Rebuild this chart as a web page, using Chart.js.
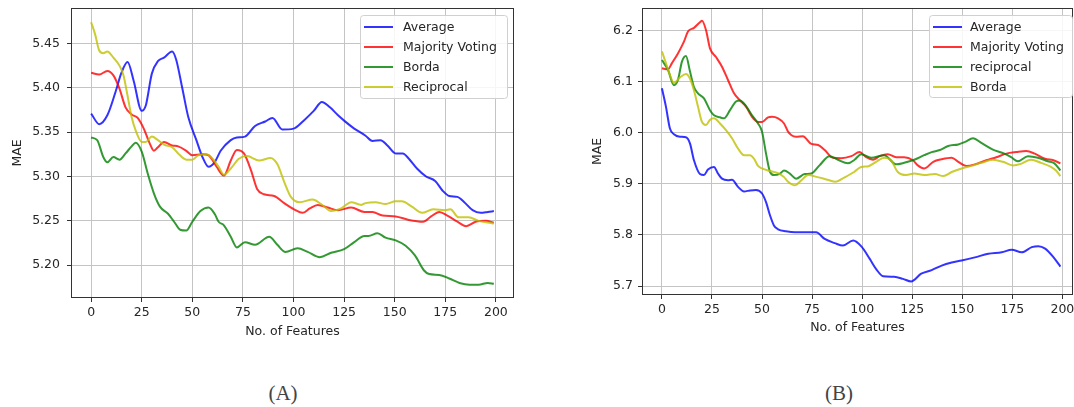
<!DOCTYPE html>
<html><head><meta charset="utf-8">
<script src="https://cdn.jsdelivr.net/npm/chart.js@4.4.1/dist/chart.umd.min.js"></script>
<style>
html,body{margin:0;padding:0;background:#fff;width:1074px;height:407px;overflow:hidden;position:relative}
.box{position:absolute}
.cap{position:absolute;font-family:"Liberation Serif","DejaVu Serif",serif;font-size:21px;color:#444;transform:translate(-50%,-50%);white-space:nowrap}
</style></head><body>
<div class="box" style="left:0;top:0;width:530px;height:345px"><canvas id="ca"></canvas></div>
<div class="box" style="left:580px;top:0;width:494px;height:341px"><canvas id="cb"></canvas></div>
<div class="cap" style="left:283px;top:393px">(A)</div>
<div class="cap" style="left:839px;top:393px">(B)</div>
<script>
// ---------- tick labels ----------
const xTicks = [0, 25, 50, 75, 100, 125, 150, 175, 200];
const yTicksA = [5.20, 5.25, 5.30, 5.35, 5.40, 5.45];
const yTicksB = [5.7, 5.8, 5.9, 6.0, 6.1, 6.2];
const xLabel = 'No. of Features';
const yLabel = 'MAE';
const seriesNamesA = ['Average', 'Majority Voting', 'Borda', 'Reciprocal'];
const seriesNamesB = ['Average', 'Majority Voting', 'reciprocal', 'Borda'];

// ---------- chart (A) ----------
const aAvgX = [0,4,8,12,15,18,21,25,27,30,33,36,40,42,45,48,52,55,58,61,64,69,72,76,81,86,89.6,94.5,100,105,110,114,118,122,125,130,135.6,139,143,146.4,150.5,154,157,161,165.5,170,173.7,177,181,184.4,188.5,192.5,196,199];
const aAvgY = [5.371,5.359,5.369,5.395,5.417,5.429,5.408,5.374,5.38,5.416,5.430,5.434,5.441,5.432,5.40,5.367,5.341,5.322,5.311,5.316,5.329,5.341,5.344,5.345,5.357,5.362,5.366,5.353,5.354,5.363,5.374,5.384,5.378,5.369,5.363,5.354,5.346,5.340,5.341,5.335,5.326,5.326,5.320,5.309,5.300,5.295,5.284,5.278,5.277,5.271,5.262,5.259,5.260,5.261];

const aMajX = [0,4,8,11,14,17,20,23,26,29,31,33,36,40,43,47,50,55,58,62,65.6,69,72,75.5,79,82,85.4,90.4,95.4,100.3,104.5,108,112,117,122,128.5,135,139,144,150.5,157,164,168,172,176,181,185.3,190,195,199];
const aMajY = [5.417,5.415,5.419,5.414,5.399,5.378,5.370,5.366,5.354,5.337,5.329,5.333,5.339,5.335,5.334,5.329,5.324,5.325,5.324,5.311,5.301,5.318,5.330,5.326,5.307,5.286,5.280,5.278,5.270,5.263,5.259,5.264,5.268,5.265,5.262,5.265,5.260,5.260,5.256,5.255,5.251,5.249,5.255,5.260,5.256,5.249,5.244,5.249,5.250,5.248];

const aBorX = [0,3,6,8,11,14,17,20,22,25,28,31,34,38,41,44,47,50,54,58,61,63,65.6,69,72,76,81,88,92,96,102,107,113,118.6,125,130,135,137,141.5,145.5,150.5,155.4,160,164.5,167,172,177,182,187,191.5,196,199];
const aBorY = [5.344,5.341,5.322,5.316,5.322,5.319,5.326,5.334,5.338,5.328,5.303,5.281,5.266,5.258,5.249,5.240,5.239,5.249,5.261,5.265,5.258,5.249,5.245,5.232,5.220,5.226,5.223,5.232,5.223,5.215,5.219,5.215,5.209,5.214,5.218,5.226,5.233,5.233,5.236,5.231,5.228,5.222,5.211,5.194,5.190,5.189,5.185,5.180,5.178,5.178,5.180,5.179];

const aRecX = [0,2,4,6,8,11,14,16,18,20,22,25,27,30,33,36,40,43,47,50,53,57,60,63,65.6,69,73,77,83,88.7,92,95.4,98.7,103,109.5,113.6,118.6,123.5,128.5,133.5,135.6,140.5,145.5,150.5,153.5,158.5,163.5,169,175,177.5,181.6,186.5,191.5,196,199];
const aRecY = [5.474,5.460,5.442,5.439,5.441,5.434,5.425,5.414,5.391,5.367,5.352,5.339,5.339,5.345,5.341,5.336,5.333,5.326,5.319,5.319,5.324,5.325,5.320,5.311,5.302,5.309,5.320,5.323,5.318,5.321,5.314,5.294,5.277,5.271,5.274,5.269,5.261,5.264,5.271,5.268,5.270,5.271,5.269,5.272,5.272,5.266,5.259,5.263,5.262,5.263,5.254,5.254,5.250,5.248,5.247];

// ---------- chart (B) ----------
const bAvgX = [0,2,4,6,9,12,14,16,19,21,23,26,28,30,33,35,38,41,44,47,50,52,54,56,58,62,66.4,71.3,77,81.3,86.3,90.4,95.5,99.7,103.8,107,110.5,116,120.4,124.5,129.5,134.7,139.7,144.7,149.7,156.3,163,169.7,174.7,179.7,184.7,188,191.4,195.6,199];
const bAvgY = [6.087,6.051,6.008,5.997,5.992,5.991,5.979,5.946,5.919,5.917,5.928,5.933,5.920,5.910,5.907,5.908,5.894,5.885,5.887,5.888,5.881,5.864,5.838,5.818,5.811,5.807,5.805,5.805,5.805,5.792,5.784,5.779,5.789,5.777,5.753,5.733,5.719,5.718,5.714,5.709,5.724,5.731,5.740,5.746,5.750,5.756,5.763,5.766,5.771,5.766,5.776,5.778,5.773,5.756,5.738];

const bMajX = [0,3,5,8,11,13,16,19,20,22,24,27,30,33,36,39,42,45,48,50,53,55,58,61,63,64.7,67,70.4,74.6,78,81.3,85.4,89.5,94.6,98.7,102,105.4,108.7,112.8,117,121,125.3,127.8,131,135.5,139.7,144.7,148,152,156.3,162,167,172,177,182,186.2,191.4,195.5,199];
const bMajY = [6.126,6.124,6.136,6.155,6.178,6.198,6.205,6.216,6.219,6.201,6.165,6.148,6.129,6.103,6.077,6.063,6.051,6.031,6.021,6.021,6.030,6.031,6.028,6.018,6.002,5.995,5.992,5.993,5.978,5.976,5.966,5.951,5.950,5.954,5.962,5.952,5.947,5.954,5.958,5.952,5.952,5.946,5.936,5.930,5.943,5.948,5.951,5.943,5.935,5.938,5.946,5.952,5.959,5.962,5.964,5.959,5.949,5.946,5.940];

const bRecX = [0,3,6,8,10,12,14,16,18,21,24,26,29,31,34,37,39,42,45,48,50,52,54,56,59,61,63.9,67,71.3,74.6,78.7,83.7,87.9,92.9,96.2,99.5,104.5,111,117,121,126,131,134.7,138.8,143,148,151.4,155.4,159.5,165.3,171,174.4,177.8,182.8,187.8,192.7,196,199];
const bRecY = [6.142,6.123,6.093,6.103,6.139,6.150,6.120,6.089,6.077,6.067,6.044,6.034,6.030,6.028,6.044,6.061,6.063,6.052,6.034,6.018,6.002,5.959,5.923,5.917,5.920,5.926,5.920,5.910,5.919,5.920,5.936,5.954,5.947,5.940,5.947,5.958,5.951,5.956,5.938,5.941,5.947,5.956,5.962,5.966,5.974,5.977,5.982,5.989,5.980,5.967,5.959,5.952,5.944,5.954,5.951,5.944,5.940,5.926];

const bBorX = [0,2,4,6,9,12,14,16,18,20,22,24,26,29,32,35,38,41,44,46,48,50,54,58,61,63,66.4,69.7,73,77.7,82.6,86.8,91,96,99.5,102.8,107,111,114.4,117.8,122,126,131,136.4,140.5,144.7,149.7,154.7,159.5,165.3,170.3,175.3,179.3,184.3,189.3,194.3,196.8,199];
const bBorY = [6.159,6.136,6.113,6.097,6.108,6.115,6.106,6.083,6.051,6.021,6.015,6.025,6.028,6.018,6.005,5.989,5.969,5.956,5.956,5.949,5.935,5.930,5.925,5.921,5.913,5.904,5.897,5.907,5.917,5.913,5.908,5.904,5.912,5.923,5.933,5.934,5.943,5.951,5.946,5.923,5.917,5.920,5.917,5.919,5.915,5.923,5.930,5.935,5.941,5.947,5.943,5.936,5.939,5.947,5.941,5.933,5.926,5.915];

// ---------- styling ----------
const BLUE = 'rgba(0,0,255,0.8)', RED = 'rgba(255,0,0,0.8)', GREEN = 'rgba(0,128,0,0.8)', YEL = 'rgba(191,191,0,0.8)';
const FONT = {family: '"DejaVu Sans", sans-serif', size: 12.5};
const TXT = '#262626';

function pts(xs, ys) { return xs.map((x, i) => ({x: x, y: ys[i]})); }
function ds(label, xs, ys, color, idx) {
  return {label, data: pts(xs, ys), borderColor: color, backgroundColor: color, borderWidth: 2,
    pointRadius: 0, fill: false, cubicInterpolationMode: 'monotone', order: 10 - idx};
}

const framePlugin = {
  id: 'frame',
  afterDraw(chart) {
    const c = chart.ctx, a = chart.chartArea;
    c.save(); c.strokeStyle = '#333'; c.lineWidth = 1;
    c.strokeRect(Math.round(a.left) + 0.5, Math.round(a.top) + 0.5, Math.round(a.right - a.left) - 1, Math.round(a.bottom - a.top) - 1);
    c.restore();
  }
};
const legendPlugin = {
  id: 'boxLegend',
  afterDraw(chart, args, o) {
    const c = chart.ctx, a = chart.chartArea;
    const x0 = a.right - o.right - o.width, y0 = a.top + o.top;
    c.save();
    c.beginPath();
    c.roundRect(x0 + 0.5, y0 + 0.5, o.width, o.height, 3);
    c.fillStyle = 'rgba(255,255,255,0.85)'; c.fill();
    c.strokeStyle = '#d0d0d0'; c.lineWidth = 1; c.stroke();
    c.font = '12.5px "DejaVu Sans", sans-serif';
    c.textBaseline = 'middle'; c.textAlign = 'left';
    chart.data.datasets.forEach((d, i) => {
      const y = y0 + o.first + i * o.step;
      c.strokeStyle = d.borderColor; c.lineWidth = 2;
      c.beginPath(); c.moveTo(x0 + o.lineX, y); c.lineTo(x0 + o.lineX + o.lineLen, y); c.stroke();
      c.fillStyle = TXT; c.fillText(d.label, x0 + o.textX, y + 0.5);
    });
    c.restore();
  }
};

function makeChart(id, datasets, cfg) {
  return new Chart(document.getElementById(id), {
    type: 'line',
    data: {datasets},
    plugins: [framePlugin, legendPlugin],
    options: {
      responsive: true, maintainAspectRatio: false, animation: false, devicePixelRatio: 1,
      layout: {padding: cfg.pad},
      plugins: {legend: {display: false}, tooltip: {enabled: false}, boxLegend: cfg.legend},
      scales: {
        x: {
          type: 'linear', min: cfg.xmin, max: cfg.xmax,
          afterBuildTicks: s => { s.ticks = xTicks.map(v => ({value: v})); },
          afterFit: s => { s.height = cfg.xh; s.paddingLeft = 0; s.paddingRight = 0; },
          ticks: {autoSkip: false, maxRotation: 0, padding: 3.5, color: TXT, font: FONT, callback: v => String(v)},
          grid: {color: '#c4c4c4', lineWidth: 1, drawTicks: true, tickLength: 4, tickColor: '#333'},
          border: {display: false},
          title: {display: true, text: xLabel, color: TXT, font: FONT, padding: {top: 0, bottom: 5.5}}
        },
        y: {
          type: 'linear', min: cfg.ymin, max: cfg.ymax,
          afterBuildTicks: s => { s.ticks = cfg.yTicks.map(v => ({value: v})); },
          afterFit: s => { s.width = cfg.yw; s.paddingTop = 0; s.paddingBottom = 0; },
          ticks: {autoSkip: false, padding: cfg.ypad, color: TXT, font: FONT, callback: v => v.toFixed(cfg.dec)},
          grid: {color: '#c4c4c4', lineWidth: 1, drawTicks: true, tickLength: 4, tickColor: '#333'},
          border: {display: false},
          title: {display: true, text: yLabel, color: TXT, font: FONT, padding: {top: 10.5, bottom: 0}}
        }
      }
    }
  });
}

makeChart('ca', [
  ds(seriesNamesA[0], aAvgX, aAvgY, BLUE, 0),
  ds(seriesNamesA[1], aMajX, aMajY, RED, 1),
  ds(seriesNamesA[2], aBorX, aBorY, GREEN, 2),
  ds(seriesNamesA[3], aRecX, aRecY, YEL, 3)
], {
  pad: {left: 0, right: 16, top: 8, bottom: 0},
  xmin: -9.95, xmax: 208.95, xh: 47,
  ymin: 5.163, ymax: 5.490, yw: 71, ypad: 7, yTicks: yTicksA, dec: 2,
  legend: {width: 147, height: 83, right: 7, top: 7, first: 12, step: 20, lineX: 4, lineLen: 29, textX: 43}
});

makeChart('cb', [
  ds(seriesNamesB[0], bAvgX, bAvgY, BLUE, 0),
  ds(seriesNamesB[1], bMajX, bMajY, RED, 1),
  ds(seriesNamesB[2], bRecX, bRecY, GREEN, 2),
  ds(seriesNamesB[3], bBorX, bBorY, YEL, 3)
], {
  pad: {left: 0, right: 1, top: 8, bottom: 0},
  xmin: -9.95, xmax: 205.3, xh: 46,
  ymin: 5.6824, ymax: 6.2439, yw: 62, ypad: 5, yTicks: yTicksB, dec: 1,
  legend: {width: 143, height: 82, right: 1, top: 7, first: 12, step: 20, lineX: 4, lineLen: 29, textX: 41}
});
</script>
</body></html>
